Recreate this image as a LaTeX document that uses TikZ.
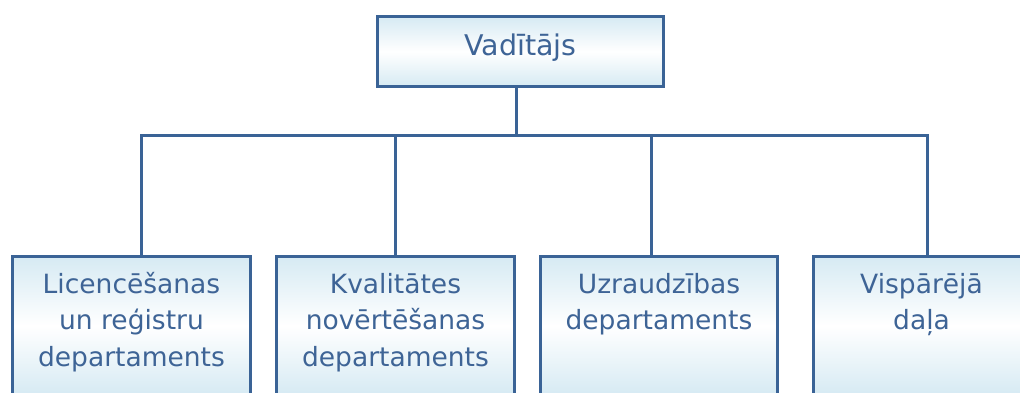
\documentclass[tikz,border=0pt]{standalone}
\usepackage{fontspec}
\setmainfont{DejaVu Sans}
\definecolor{edge}{RGB}{58,99,150}
\definecolor{txt}{RGB}{62,100,150}
\definecolor{shadeblue}{RGB}{214,234,243}
\begin{document}
\begin{tikzpicture}[x=1pt,y=-1pt,
  box/.style={draw=edge, line width=3pt, top color=shadeblue, bottom color=shadeblue, middle color=white, inner sep=0pt, outer sep=0pt},
  topbox/.style={box, minimum width=286pt, minimum height=70pt},
  depbox/.style={box, minimum width=238pt, minimum height=138.5pt},
  lbl/.style={text=txt, inner sep=0pt, anchor=base, font=\fontsize{26.5}{36.7}\selectfont},
  toplbl/.style={text=txt, inner sep=0pt, anchor=base, font=\fontsize{28.5}{34}\selectfont},
  conn/.style={draw=edge, line width=3pt}]
\useasboundingbox (0,0) rectangle (1020,392);
\clip (0,0) rectangle (1020,392);
\fill[white] (0,0) rectangle (1020,392);
% nodes
\node[topbox] (top) at (520.5,51.5) {};
\node[depbox] (b1) at (131.5,325.75) {};
\node[depbox] (b2) at (395.5,325.75) {};
\node[depbox, minimum width=237pt] (b3) at (659,325.75) {};
\node[depbox, minimum width=216pt] (b4) at (921.5,325.75) {};
% labels
\node[toplbl] (tl) at ([yshift=-3.5pt]top.center) {Vadītājs};
\node[lbl] (l1) at ([yshift=-36.5pt]b1.north) {\begin{tabular}[t]{@{}c@{}}Licencēšanas\\un reģistru\\departaments\end{tabular}};
\node[lbl] (l2) at ([yshift=-36.5pt]b2.north) {\begin{tabular}[t]{@{}c@{}}Kvalitātes\\novērtēšanas\\departaments\end{tabular}};
\node[lbl] (l3) at ([yshift=-36.5pt]b3.north) {\begin{tabular}[t]{@{}c@{}}Uzraudzības\\departaments\end{tabular}};
\node[lbl] (l4) at ([yshift=-36.5pt]b4.north) {\begin{tabular}[t]{@{}c@{}}Vispārējā\\daļa\end{tabular}};
% connector points
\coordinate (hub) at (516,135);
\coordinate (d1) at (141,135);
\coordinate (d2) at (395,135);
\coordinate (d3) at (651,135);
\coordinate (d4) at (927,135);
% connectors
\draw[conn] (top.south -| hub) -- (hub);
\draw[conn] (d1 |- b1.north) -- (d1) -- (d4) -- (d4 |- b4.north);
\draw[conn] (d2) -- (d2 |- b2.north);
\draw[conn] (d3) -- (d3 |- b3.north);
\end{tikzpicture}
\end{document}
